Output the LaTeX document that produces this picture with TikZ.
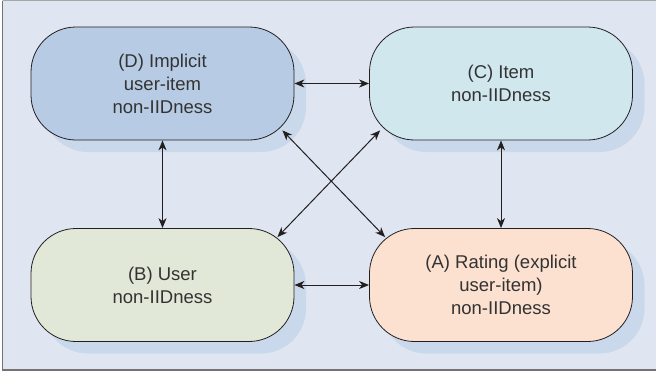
\documentclass[tikz,border=0pt]{standalone}
\usepackage{fontspec}
\setmainfont{Liberation Sans}
\usepackage{tikz}
\usetikzlibrary{arrows.meta,shadows,calc}
\definecolor{bgblue}{HTML}{DFE6F1}
\definecolor{shadeblue}{HTML}{C9D9EB}
\definecolor{dblue}{HTML}{B7CCE4}
\definecolor{ccyan}{HTML}{D1E7EE}
\definecolor{bgreen}{HTML}{E2E8D7}
\definecolor{apeach}{HTML}{FCE1D1}
\definecolor{txtgray}{HTML}{333333}
\definecolor{linegray}{HTML}{231F20}
\begin{document}
\begin{tikzpicture}[x=1pt,y=-1pt,
  pill/.style={draw=linegray,line width=0.8pt,rounded corners=45pt,
    minimum width=263pt,minimum height=113pt,inner sep=0pt,
    align=center,text=txtgray,font=\fontsize{18.5}{23}\selectfont,
    drop shadow={shadow xshift=12pt,shadow yshift=-12pt,fill=shadeblue,opacity=1,draw=none}},
  link/.style={<->,>={Stealth[length=10pt,width=8pt,inset=3pt]},draw=linegray,line width=1pt}]
\useasboundingbox (0,0) rectangle (656,380);

% to draw the frame
\fill [bgblue] (2,0) rectangle (660,370);
\draw [gray!70,line width=1pt] (2.5,0.5) -- (660,0.5);
\draw [gray!90!black,line width=1pt] (2.5,0.5) -- (2.5,369);
\draw [gray!90!black,line width=2pt] (2,369.5) -- (660,369.5);

% to write the four kinds
\node [pill,fill=dblue] (D) at (162.5,83.5) {(D) Implicit\\user-item\\non-IIDness};
\node [pill,fill=ccyan] (C) at (501,83.5) {(C) Item\\non-IIDness};
\node [pill,fill=bgreen] (B) at (162.5,285) {(B) User\\non-IIDness};
\node [pill,fill=apeach] (A) at (501,285) {(A) Rating (explicit\\user-item)\\non-IIDness};

% to draw arrows between them
\draw [link] (D.east) -- (C.west);
\draw [link] (B.east) -- (A.west);
\draw [link] (D.south) -- (B.north);
\draw [link] (C.south) -- (A.north);

% to draw the crossing arrows
\coordinate (dse) at ($(D.south east)+(-12,-10)$);
\coordinate (anw) at ($(A.north west)+(16,9)$);
\coordinate (csw) at ($(C.south west)+(11,-10)$);
\coordinate (bne) at ($(B.north east)+(-17,9)$);
\draw [link] (dse) -- (anw);
\draw [link] (csw) -- (bne);
\end{tikzpicture}
\end{document}
